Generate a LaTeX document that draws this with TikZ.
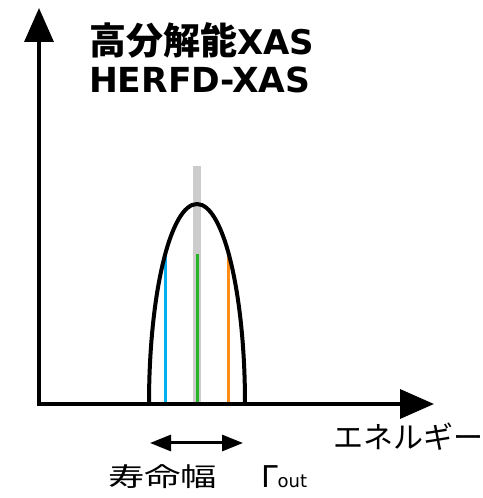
\documentclass[tikz,border=0pt]{standalone}
\usepackage{fontspec}
\setmainfont{DejaVu Sans}
\newfontfamily\cjk{Noto Sans CJK JP}
\usetikzlibrary{arrows.meta}
\definecolor{barcol}{RGB}{204,204,204}
\definecolor{bluecol}{RGB}{0,176,240}
\definecolor{greencol}{RGB}{40,180,40}
\definecolor{orangecol}{RGB}{255,140,20}
\tikzset{
  axis/.style={line width=3.5pt,-{Triangle[length=34pt,width=29pt]}},
  peak/.style={line width=4pt},
  comp/.style={line width=3pt},
  txt/.style={inner sep=0pt,outer sep=0pt},
}
\begin{document}
\begin{tikzpicture}[x=1pt,y=1pt]
\useasboundingbox (0,0) rectangle (482,498);
% gray bar
\fill[barcol] (192.5,94) rectangle (201,332);
% colored lines
\coordinate (b0) at (165,94); \coordinate (b1) at (165,244);
\coordinate (g0) at (197,94); \coordinate (g1) at (197,244);
\coordinate (o0) at (228.5,94); \coordinate (o1) at (228.5,244);
\draw[comp,bluecol] (b0) -- (b1);
\draw[comp,greencol] (g0) -- (g1);
\draw[comp,orangecol] (o0) -- (o1);
% peak curve
\coordinate (pl) at (149,94);
\draw[peak] (pl) arc[start angle=180,end angle=0,x radius=48,y radius=200];
% axes
\coordinate (org) at (39,94);
\coordinate (ytip) at (39,490);
\coordinate (xstart) at (37.25,94);
\coordinate (xtip) at (434,94);
\draw[axis] ([yshift=-1.75pt]org) -- (ytip);
\draw[axis] (xstart) -- (xtip);
% width arrow
\coordinate (wl) at (150,55);
\coordinate (wr) at (243,55);
\draw[line width=3pt,{Triangle[length=21pt,width=16pt]}-{Triangle[length=21pt,width=16pt]}] (wl) -- (wr);
% texts
\node[txt,anchor=base west] (t1) at (89,443) {{\fontsize{37}{40}\selectfont\cjk\bfseries 高分解能}{\fontsize{34}{40}\selectfont\bfseries XAS}};
\node[txt,anchor=base west] (t2) at (89,405) {\fontsize{34.5}{40}\selectfont\bfseries HERFD-XAS};
\node[txt,anchor=base west] (xl) at (333,49) {\fontsize{30}{36}\selectfont\cjk エネルギー};
\node[txt,anchor=base west] (wlab) at (108,12) {\fontsize{26}{30}\selectfont\cjk\scalebox{1.4}[1]{寿命幅}};
\node[txt,anchor=base west] (gam) at (261,10) {\fontsize{30}{36}\selectfont Γ\fontsize{18}{20}\selectfont out};
\end{tikzpicture}
\end{document}
